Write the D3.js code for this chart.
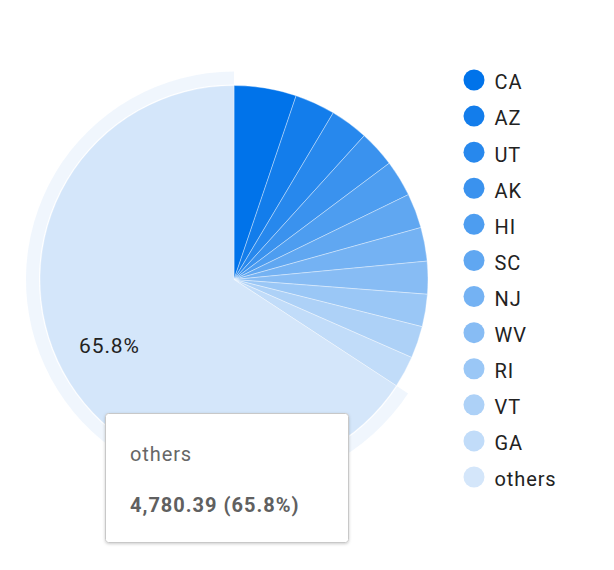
<!DOCTYPE html>
<html><head><meta charset="utf-8">
<script src="https://cdn.jsdelivr.net/npm/d3@7"></script>
<style>
html,body{margin:0;padding:0;background:#fff;}
svg{display:block;font-family:Roboto,"Noto Sans",sans-serif;}
</style></head>
<body>
<svg id="chart" width="614" height="570"></svg>
<script>
const categories = ["CA","AZ","UT","AK","HI","SC","NJ","WV","RI","VT","GA","others"];
const values = [377, 244, 230, 222, 220, 210, 204, 198, 196, 194, 192, 4780.39];
const hovered = "others";

const svg = d3.select("#chart");
const cx = 234, cy = 279.5, R = 194;
const total = d3.sum(values);
const data = categories.map((c,i)=>({name:c, value:values[i]}));

const color = d3.scaleOrdinal()
  .domain(categories)
  .range(categories.map((c,i)=>d3.interpolateRgb("#0073EA","#D4E6FA")(i/(categories.length-1))));

const pie = d3.pie().sort(null).value(d=>d.value);
const arcs = pie(data);
const arc = d3.arc().innerRadius(0).outerRadius(R);
const halo = d3.arc().innerRadius(R+1).outerRadius(R+14);

const g = svg.append("g").attr("transform",`translate(${cx},${cy})`);

arcs.filter(a=>a.data.name===hovered).forEach(a=>{
  g.append("path").attr("d",halo(a)).attr("fill",color(a.data.name)).attr("opacity",0.35);
});

g.selectAll("path.slice").data(arcs).join("path")
  .attr("class","slice")
  .attr("d",arc)
  .attr("fill",d=>color(d.data.name))
  .attr("stroke","#fff").attr("stroke-width",0.6).attr("stroke-opacity",0.6);

const fmtPct = d3.format(".1%");
const labelArc = d3.arc().innerRadius(R*0.73).outerRadius(R*0.73);
g.selectAll("text.lbl").data(arcs.filter(a=>a.value/total>0.1)).join("text")
  .attr("class","lbl")
  .attr("transform",d=>`translate(${labelArc.centroid(d)})`)
  .attr("text-anchor","middle").attr("dy","0.3em")
  .attr("font-size",21).attr("letter-spacing","0.9px").attr("fill","#222")
  .text(d=>fmtPct(d.value/total));

// legend
const ly = d3.scalePoint().domain(categories).range([80,477]);
const leg = svg.append("g");
const li = leg.selectAll("g").data(categories).join("g")
  .attr("transform",d=>`translate(474,${ly(d)})`);
li.append("circle").attr("r",10.5).attr("fill",d=>color(d));
li.append("text").attr("x",20.5).attr("dy","0.47em").attr("font-size",20).attr("letter-spacing","0.9px").attr("fill","#222").text(d=>d);

// tooltip
const hv = data.find(d=>d.name===hovered);
const tip = svg.append("g").attr("transform","translate(105.5,413.5)");
const defs = svg.append("defs");
const f = defs.append("filter").attr("id","sh").attr("x","-10%").attr("y","-10%").attr("width","120%").attr("height","130%");
f.append("feDropShadow").attr("dx",0).attr("dy",1).attr("stdDeviation",1.5).attr("flood-color","#000").attr("flood-opacity",0.2);
tip.append("rect").attr("width",243).attr("height",129).attr("rx",3)
  .attr("fill","#fff").attr("stroke","#c8c8c8").attr("stroke-width",1).attr("filter","url(#sh)");
tip.append("text").attr("x",24.5).attr("y",47).attr("font-size",20).attr("letter-spacing","0.9px").attr("fill","#666").text(hv.name);
tip.append("text").attr("x",24.5).attr("y",98).attr("font-size",20).attr("letter-spacing","1px").attr("font-weight","bold").attr("fill","#606060")
  .text(`${d3.format(",.2f")(hv.value)} (${fmtPct(hv.value/total)})`);
</script>
</body></html>
